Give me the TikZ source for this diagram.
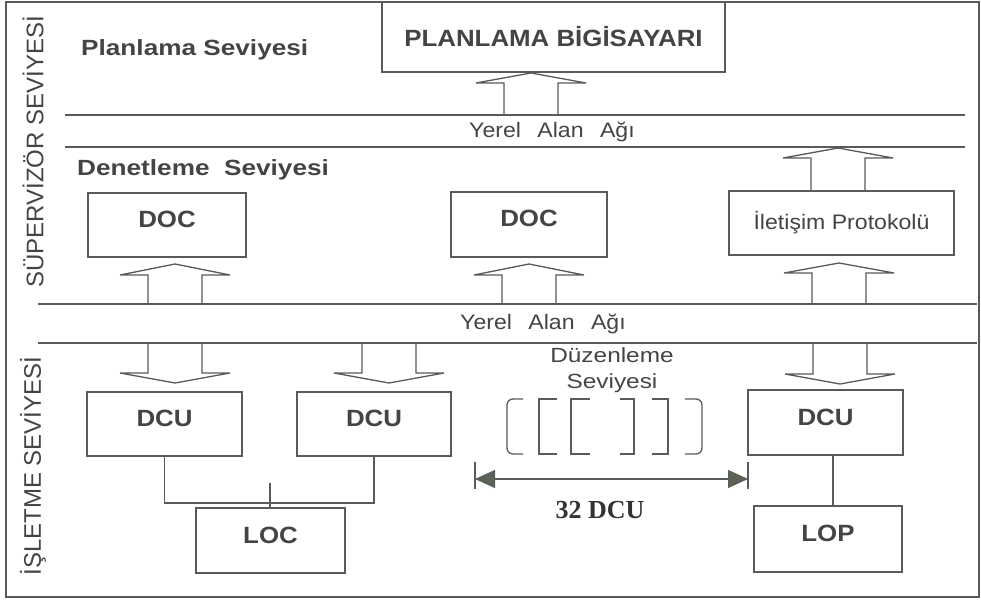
\documentclass[tikz,border=0pt]{standalone}
\usepackage{fontspec}
\setmainfont{Liberation Sans}
\newfontfamily\fsA[FakeStretch=1.19]{Liberation Sans}
\newfontfamily\fsB[FakeStretch=1.1]{Liberation Sans}
\newfontfamily\serifb{Liberation Serif}
\usetikzlibrary{arrows.meta}
\definecolor{ln}{HTML}{5A5A5A}
\definecolor{tx}{HTML}{444444}
\definecolor{hd}{HTML}{5B6357}
\newcommand{\blkarr}[4]{\draw[barr] (#1-27,#2) -- (#1-27,#3) -- (#1-55,#3) -- (#1,#4) -- (#1+55,#3) -- (#1+27,#3) -- (#1+27,#2);}
\begin{document}
\begin{tikzpicture}[x=1pt,y=-1pt,line join=miter,
  box/.style={draw=ln,line width=1.3pt,fill=white,inner sep=0pt,text=tx},
  unit/.style={box,font=\fsB\bfseries\fontsize{23.5}{23.5}\selectfont,text height=5pt,text depth=0pt},
  lan/.style={draw=ln,line width=1.3pt},
  barr/.style={draw=ln,line width=1.3pt,fill=white},
  lbl/.style={text=tx,inner sep=0pt}]
\useasboundingbox (0,0) rectangle (981,601);
\draw[draw=ln,line width=2pt] (6,2) rectangle (979,597);

% side labels
\node[lbl,rotate=90,font=\fontsize{24}{24}\selectfont] (sup) at (33,152) {SÜPERVİZÖR SEVİYESİ};
\node[lbl,rotate=90,font=\fontsize{24}{24}\selectfont] (isl) at (33,466) {İŞLETME SEVİYESİ};

% level labels
\node[lbl,anchor=west,font=\fsA\bfseries\fontsize{22}{22}\selectfont] (plv) at (81,50) {Planlama Seviyesi};
\node[lbl,anchor=west,font=\fsA\bfseries\fontsize{22}{22}\selectfont] (dlv) at (77,170) {Denetleme\ \ Seviyesi};

% block arrows (drawn before the lines)
\blkarr{531}{115}{83}{73}
\blkarr{838}{190}{158}{148}
\blkarr{175}{304}{275}{264}
\blkarr{529}{304}{275}{264}
\blkarr{839}{304}{273}{263}
\blkarr{175}{343}{373}{383}
\blkarr{389}{343}{373}{383}
\blkarr{840}{343}{374}{384}

% network lines
\coordinate (l1w) at (65,115); \coordinate (l1e) at (965,115);
\coordinate (l2w) at (65,147); \coordinate (l2e) at (965,147);
\coordinate (l3w) at (38,304); \coordinate (l3e) at (977,304);
\coordinate (l4w) at (38,343); \coordinate (l4e) at (977,343);
\draw[lan] (l1w) -- (l1e);
\draw[lan] (l2w) -- (l2e);
\draw[lan] (l3w) -- (l3e);
\draw[lan] (l4w) -- (l4e);
\node[lbl,font=\fsB\fontsize{21}{21}\selectfont] (lan1) at (552,132) {Yerel\hspace{10pt} Alan\hspace{10pt} Ağı};
\node[lbl,font=\fsB\fontsize{21}{21}\selectfont] (lan2) at (543,324) {Yerel\hspace{10pt} Alan\hspace{10pt} Ağı};

% boxes
\node[box,font=\fsB\bfseries\fontsize{23.5}{23.5}\selectfont,minimum width=343pt,minimum height=70pt] (pc) at (553.5,37) {PLANLAMA BİGİSAYARI};
\node[unit,minimum width=158pt,minimum height=64pt] (doc1) at (167,225) {DOC};
\node[unit,minimum width=156pt,minimum height=65pt] (doc2) at (529,224.5) {DOC};
\node[box,font=\fsB\fontsize{21}{21}\selectfont,minimum width=225pt,minimum height=64pt] (ilt) at (841.5,223) {İletişim Protokolü};
\node[unit,minimum width=155pt,minimum height=64pt] (dcu1) at (164.5,424) {DCU};
\node[unit,minimum width=154pt,minimum height=64pt] (dcu2) at (374,424) {DCU};
\node[unit,minimum width=155pt,minimum height=65pt] (dcu3) at (825.5,422.5) {DCU};
\node[unit,minimum width=149pt,minimum height=65pt] (loc) at (270.5,540.5) {LOC};
\node[unit,minimum width=148pt,minimum height=66pt] (lop) at (828,539) {LOP};

% connectors
\coordinate (bus) at (270,503);
\coordinate (tick) at (270,483);
\draw[lan] (dcu1.south) |- (bus) -| (dcu2.south);
\draw[lan] (tick) -- (tick |- loc.north);
\draw[lan] ([xshift=5pt]lop.north) -- ([xshift=5pt]lop.north |- dcu3.south);

% regulation level
\node[lbl,align=center,font=\fsA\fontsize{20.5}{26}\selectfont] (dz) at (612,370) {Düzenleme\\Seviyesi};
\draw[lan,rounded corners=6pt] (523,399) -- (507,399) -- (507,454) -- (523,454);
\draw[lan] (557,399) -- (539,399) -- (539,454) -- (557,454);
\draw[lan] (590,399) -- (571,399) -- (571,454) -- (590,454);
\draw[lan] (620,399) -- (634,399) -- (634,454) -- (620,454);
\draw[lan] (652,399) -- (668,399) -- (668,454) -- (652,454);
\draw[lan,rounded corners=6pt] (685,399) -- (702,399) -- (702,454) -- (685,454);

\coordinate (da) at (475,479);
\coordinate (db) at (748,479);
\draw[lan] ([yshift=-10pt]da) -- ([yshift=17pt]da);
\draw[lan] ([yshift=-10pt]db) -- ([yshift=17pt]db);
\draw[lan,{Triangle[length=20pt,width=18pt,fill=hd,line width=0.8pt]}-{Triangle[length=20pt,width=18pt,fill=hd,line width=0.8pt]}] (da) -- (db);
\node[inner sep=0pt,text=black!80,font=\serifb\bfseries\fontsize{26}{26}\selectfont] (n32) at (600,510) {32 DCU};
\end{tikzpicture}
\end{document}
